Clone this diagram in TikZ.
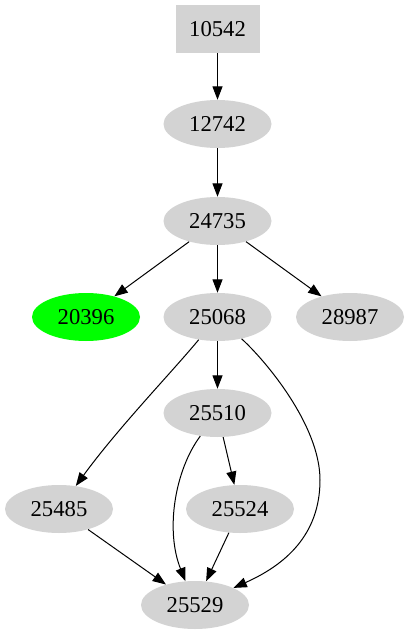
\documentclass[tikz,border=0pt]{standalone}
\usepackage{fontspec}
\setmainfont{Liberation Serif}
\usetikzlibrary{shapes.geometric,arrows.meta}
\definecolor{nodegray}{HTML}{D3D3D3}
\definecolor{nodegreen}{HTML}{00FF00}
\tikzset{
  ell/.style={ellipse, fill=nodegray, draw=none, minimum width=81pt, minimum height=36pt, inner sep=0pt, font=\fontsize{17}{20}\selectfont},
  boxnode/.style={rectangle, fill=nodegray, draw=none, minimum width=63pt, minimum height=36pt, inner sep=0pt, font=\fontsize{17}{20}\selectfont},
  edge/.style={draw=black, line width=0.75pt, -{Triangle[length=10pt,width=7.5pt]}}
}
\begin{document}
\begin{tikzpicture}[x=0.75pt,y=-0.75pt]
\useasboundingbox (0,0) rectangle (409,635);
\node[boxnode] (n10542) at (217.5,29) {10542};
\node[ell] (n12742) at (217.5,124) {12742};
\node[ell] (n24735) at (217.5,221) {24735};
\node[ell, fill=nodegreen] (n20396) at (86,317) {20396};
\node[ell] (n25068) at (217.5,317) {25068};
\node[ell] (n28987) at (350,317) {28987};
\node[ell] (n25510) at (217.5,413) {25510};
\node[ell] (n25485) at (59,509) {25485};
\node[ell] (n25524) at (240,509) {25524};
\node[ell] (n25529) at (195,605) {25529};

\draw[edge] (n10542) -- (n12742);
\draw[edge] (n12742) -- (n24735);
\draw[edge] (n24735) -- (n20396);
\draw[edge] (n24735) -- (n25068);
\draw[edge] (n24735) -- (n28987);
\draw[edge] (n25068) .. controls (172,372) and (118,428) .. (n25485);
\draw[edge] (n25068) -- (n25510);
\draw[edge] (n25068) .. controls (265,360) and (320,425) .. (320,480) .. controls (320,535) and (285,565) .. (n25529);
\draw[edge] (n25510) -- (n25524);
\draw[edge] (n25510) .. controls (175,470) and (165,530) .. (n25529);
\draw[edge] (n25485) -- (n25529);
\draw[edge] (n25524) -- (n25529);
\end{tikzpicture}
\end{document}
